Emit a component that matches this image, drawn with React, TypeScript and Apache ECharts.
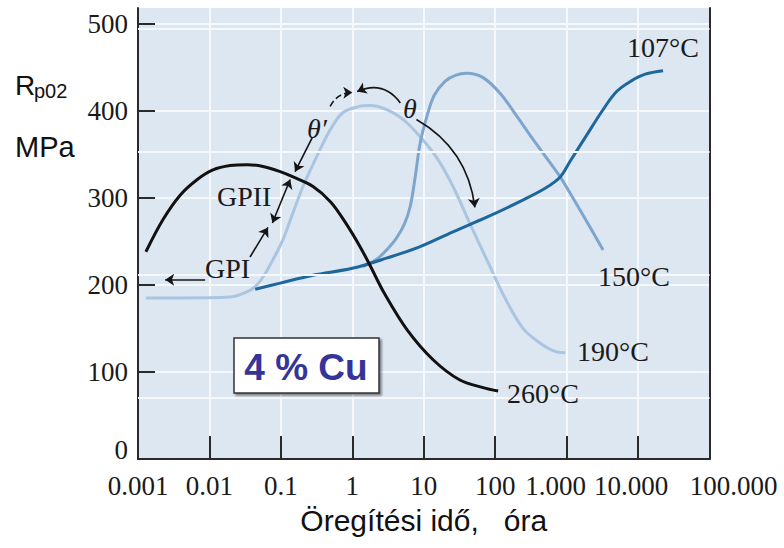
import React, { useEffect, useRef } from "react";
import * as echarts from "echarts";

// Tick labels
const xTickLabels = ["0.001", "0.01", "0.1", "1", "10", "100", "1.000", "10.000", "100.000"];
const yTicks = [0, 100, 200, 300, 400, 500];
const rightTicks = [70.5, 212, 353, 494];

// 260 °C (hours, MPa)
const t260 = [0.00129, 0.00224, 0.00389, 0.00676, 0.0112, 0.0195, 0.0339, 0.0562, 0.0977, 0.148, 0.282, 0.501, 0.794, 1.26, 1.78, 2.82, 5.89, 13.5, 31.6, 67.6, 110];
const v260 = [238, 275, 303, 321, 332, 337, 338, 336, 330, 324, 313, 295, 272, 245, 222, 190, 148, 114, 91, 82, 78];

// 190 °C
const t190 = [0.00129, 0.00389, 0.0195, 0.0316, 0.0437, 0.0562, 0.0776, 0.107, 0.148, 0.204, 0.316, 0.49, 0.741, 1.26, 1.78, 3.09, 5.13, 8.91, 15.5, 25.7, 46.8, 81.3, 135, 245, 427, 724, 955];
const v190 = [185, 185, 186, 191, 198, 209, 229, 252, 283, 313, 347, 378, 398, 405, 406, 401, 390, 370, 345, 313, 266, 224, 186, 150, 133, 123, 122];

// 150 °C
const t150 = [1.41, 2.24, 3.09, 4.17, 5.37, 6.46, 7.59, 8.91, 11.2, 14.1, 20, 28.2, 39.8, 67.6, 117, 204, 339, 589, 813, 1000, 1700, 3240];
const v150 = [221, 230, 241, 254, 270, 290, 324, 363, 395, 418, 434, 441, 443, 438, 420, 393, 367, 340, 324, 312, 280, 240];

// 107 °C
const t107 = [0.0437, 0.0977, 0.282, 1, 3.09, 8.91, 25.7, 77.6, 224, 501, 813, 1120, 1910, 3160, 5010, 7940, 12600, 22400];
const v107 = [195, 202, 211, 219, 231, 244, 261, 278, 296, 311, 324, 342, 372, 400, 422, 434, 442, 446];

// Annotation arrows (hours, MPa)
const arrowPaths = [
  { from: [0.0087, 206], to: [0.0024, 206], curve: 0, both: false, dashed: false },
  { from: [0.037, 232], to: [0.066, 266], curve: 0, both: false, dashed: false },
  { from: [0.076, 271], to: [0.135, 321], curve: 0, both: true, dashed: false },
  { from: [0.275, 369], to: [0.158, 330], curve: 0, both: false, dashed: false },
  { from: [0.49, 405], to: [1.0, 421], curve: 0.3, both: false, dashed: true },
  { from: [4.7, 409], to: [1.17, 422], curve: -0.4, both: false, dashed: false },
  { from: [7.9, 390], to: [52, 289], curve: 0.25, both: false, dashed: false },
];

const zip = (t: number[], v: number[]) => t.map((x, i) => [x, v[i]]);

const SERIF = "'Liberation Serif', 'Times New Roman', serif";
const SANS = "'Liberation Sans', Arial, sans-serif";

export default function App() {
  const ref = useRef<HTMLDivElement>(null);

  useEffect(() => {
    const chart = echarts.init(ref.current!, null, { renderer: "svg" });
    const gridWhite = "#f5f8fc";
    const axisColor = "#2a2a2a";
    const labelBase = { fontFamily: SERIF, fontSize: 27, color: "#1a1a1a" };

    const curve = (name: string, t: number[], v: number[], color: string, z = 3) => ({
      name,
      type: "line",
      data: zip(t, v),
      smooth: 0.35,
      showSymbol: false,
      symbol: "none",
      z,
      silent: true,
      lineStyle: { color, width: 3 },
    });

    const tempLabel = (text: string, x: number, y: number) => ({
      type: "text",
      x,
      y,
      z: 20,
      style: { text, fontFamily: SERIF, fontSize: 28, fill: "#1a1a1a", textAlign: "left", textVerticalAlign: "middle" },
    });

    // label shift styles for the last x labels (reference has them off-centre)
    const xRichKey = ["n", "n", "n", "n", "n", "n", "a", "b", "c"];

    const option: any = {
      animation: false,
      backgroundColor: "#ffffff",
      grid: { left: 138, right: 74.5, top: 8, bottom: 89, show: true, backgroundColor: "#dde7f2", borderWidth: 0 },
      xAxis: {
        type: "log",
        logBase: 10,
        min: 0.001,
        max: 100000,
        axisLine: { show: true, lineStyle: { color: axisColor, width: 2 } },
        axisTick: { show: true, inside: true, length: 23, lineStyle: { color: axisColor, width: 2 } },
        minorTick: { show: false },
        axisLabel: {
          interval: 0,
          showMinLabel: true,
          showMaxLabel: true,
          margin: 13,
          ...labelBase,
          formatter: (v: number) => {
            const i = Math.round(Math.log10(v)) + 3;
            const s = xTickLabels[i];
            if (s === undefined) return "";
            return "{" + xRichKey[i] + "|" + s + "}";
          },
          rich: {
            n: { ...labelBase },
            a: { ...labelBase, padding: [0, 22, 0, 0] },
            b: { ...labelBase, padding: [0, 14, 0, 0] },
            c: { ...labelBase, padding: [0, 0, 0, 48] },
          },
        },
        splitLine: { show: true, lineStyle: { color: gridWhite, width: 2 } },
        name: "Öregítési idő,\u00a0\u00a0 óra",
        nameLocation: "middle",
        nameGap: 46,
        nameTextStyle: { fontFamily: SANS, fontSize: 30, color: "#111" },
      },
      yAxis: [
        {
          type: "value",
          min: 0,
          max: 518,
          interval: 100,
          position: "left",
          axisLine: { show: true, lineStyle: { color: axisColor, width: 2 } },
          axisTick: { show: true, inside: true, length: 17, customValues: yTicks, lineStyle: { color: axisColor, width: 2 } },
          axisLabel: {
            customValues: yTicks,
            margin: 10,
            ...labelBase,
            formatter: (v: number) => (v === 0 ? "{z|0}" : String(v)),
            rich: { z: { ...labelBase, padding: [0, 0, 18, 0] } },
          },
          splitLine: { show: true, lineStyle: { color: gridWhite, width: 2 } },
        },
        {
          type: "value",
          min: 0,
          max: 518,
          position: "right",
          axisLine: { show: true, lineStyle: { color: axisColor, width: 2 } },
          axisTick: { show: true, inside: true, length: 14, customValues: rightTicks, lineStyle: { color: axisColor, width: 2 } },
          axisLabel: { show: false },
          splitLine: { show: false },
        },
      ],
      series: [
        {
          type: "line",
          data: [[0.001, 0], [100000, 0]],
          showSymbol: false,
          symbol: "none",
          silent: true,
          z: 1,
          lineStyle: { opacity: 0 },
          markLine: {
            silent: true,
            symbol: "none",
            label: { show: false },
            lineStyle: { color: gridWhite, width: 2, type: "solid" },
            data: rightTicks.map((v) => ({ yAxis: v })),
          },
        },
        curve("190°C", t190, v190, "#a9c5e1"),
        curve("150°C", t150, v150, "#7ea5cc"),
        curve("107°C", t107, v107, "#1c679c", 4),
        curve("260°C", t260, v260, "#111111", 5),
        {
          type: "lines",
          coordinateSystem: "cartesian2d",
          xAxisIndex: 0,
          yAxisIndex: 0,
          z: 6,
          silent: true,
          symbol: ["none", "arrow"],
          symbolSize: 9,
          lineStyle: { color: "#151515", width: 1.6, opacity: 1 },
          data: arrowPaths.map((a) => ({
            coords: [a.from, a.to],
            symbol: a.both ? ["arrow", "arrow"] : ["none", "arrow"],
            lineStyle: { curveness: a.curve, type: a.dashed ? "dashed" : "solid", color: "#151515", width: 1.6 },
          })),
        },
      ],
      graphic: [
        { type: "text", x: 15, y: 85, z: 20, style: { text: "R", fontFamily: SANS, fontSize: 28, fill: "#111", textVerticalAlign: "middle" } },
        { type: "text", x: 34, y: 91, z: 20, style: { text: "p02", fontFamily: SANS, fontSize: 20, fill: "#111", textVerticalAlign: "middle" } },
        { type: "text", x: 15, y: 147, z: 20, style: { text: "MPa", fontFamily: SANS, fontSize: 29, fill: "#111", textVerticalAlign: "middle" } },
        tempLabel("107°C", 627, 47.5),
        tempLabel("150°C", 598, 276),
        tempLabel("190°C", 577, 351.5),
        tempLabel("260°C", 507, 393),
        tempLabel("GPI", 205, 268.5),
        tempLabel("GPII", 217, 196.5),
        { type: "text", x: 307, y: 128.5, z: 20, style: { text: "θ′", fontFamily: SERIF, fontStyle: "italic", fontSize: 28, fill: "#1a1a1a", textVerticalAlign: "middle" } },
        { type: "text", x: 403, y: 108.5, z: 20, style: { text: "θ", fontFamily: SERIF, fontStyle: "italic", fontSize: 28, fill: "#1a1a1a", textVerticalAlign: "middle" } },
        {
          type: "rect",
          z: 20,
          shape: { x: 234, y: 338, width: 145, height: 55 },
          style: { fill: "#ffffff", stroke: "#333333", lineWidth: 1.5, shadowColor: "rgba(0,0,0,0.45)", shadowOffsetX: 2, shadowOffsetY: 2, shadowBlur: 2 },
        },
        {
          type: "text",
          x: 306,
          y: 367,
          z: 21,
          style: { text: "4 % Cu", fontFamily: SANS, fontWeight: "bold", fontSize: 37, fill: "#343499", textAlign: "center", textVerticalAlign: "middle" },
        },
      ],
    };

    chart.setOption(option);
    return () => chart.dispose();
  }, []);

  return <div ref={ref} style={{ width: 784, height: 548, position: "absolute", left: 0, top: 0 }} />;
}
